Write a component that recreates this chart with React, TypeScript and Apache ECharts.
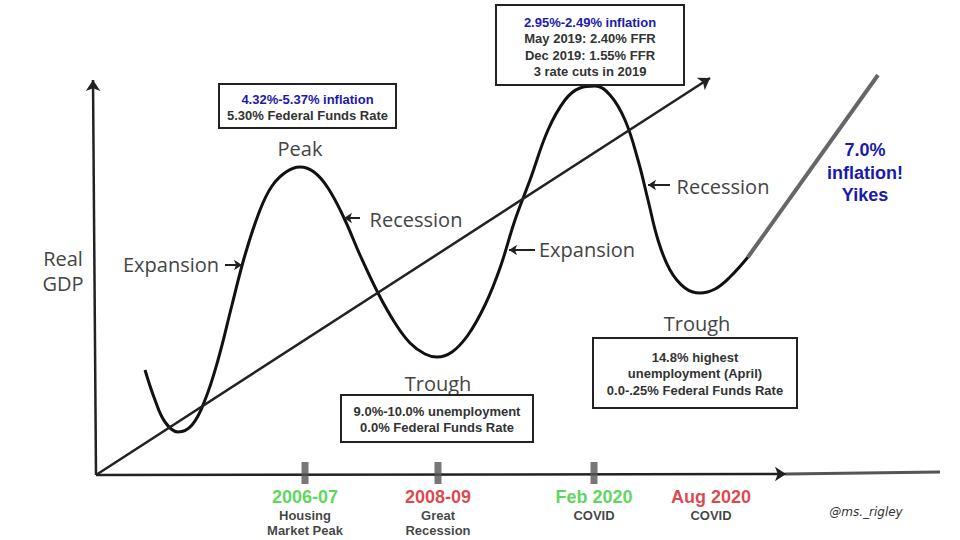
import React, { useEffect, useRef } from "react";
import * as echarts from "echarts";

// ---- data (axis units: x = px right of origin, y = height above x-axis) ----
const cycleX = [49, 59, 69, 82, 96, 109, 122, 136, 149, 164, 176, 190, 204, 218, 232, 248, 264, 282, 299, 314, 329, 341, 356, 372, 389, 404, 419, 434, 452, 469, 484, 499, 514, 529, 542, 552, 562, 574, 589, 604, 619, 634, 652];
const cycleY = [105, 75, 53, 43, 50, 75, 115, 170, 220, 265, 289, 303, 308, 303, 287, 257, 220, 182, 152, 132, 121, 118, 123, 140, 170, 207, 255, 295, 345, 375, 387, 389, 380, 355, 315, 275, 235, 205, 187, 182, 186, 198, 218];
const surgeX = [652, 782];
const surgeY = [218, 400];
const trendLine = [[0, 0], [614, 397]];
const yAxisLine = [[0, 0], [-3, 395]];
const xAxisArrow = [[0, 0], [690, 1]];
const xAxisTail = [[690, 1], [844, 3]];
const phaseArrows = [
  [[129, 210], [146, 210]],
  [[264, 257], [248, 257]],
  [[439, 225], [413, 225]],
  [[574, 290], [552, 290]],
];

const eventLabels = ["2006-07", "2008-09", "Feb 2020", "Aug 2020"];
const eventNotes = [["Housing", "Market Peak"], ["Great", "Recession"], ["COVID"], ["COVID"]];
const eventX = [209, 342, 498, 615];
const eventColorKey = ["g", "r", "g", "r"];
const eventHasTick = [true, true, true, false];

const phaseLabels = [
  { text: "Peak", x: 300, y: 148 },
  { text: "Expansion", x: 171, y: 264 },
  { text: "Recession", x: 416, y: 219 },
  { text: "Trough", x: 438, y: 383 },
  { text: "Expansion", x: 587, y: 249 },
  { text: "Recession", x: 723, y: 186 },
  { text: "Trough", x: 697, y: 323 },
  { text: "Real", x: 63, y: 258 },
  { text: "GDP", x: 63, y: 283 },
];

const boxes = [
  { x: 219, y: 84, w: 177, h: 44, lines: [["4.32%-5.37% inflation", true], ["5.30% Federal Funds Rate", false]], y0: 99 },
  { x: 496, y: 5, w: 188, h: 80, lines: [["2.95%-2.49% inflation", true], ["May 2019: 2.40% FFR", false], ["Dec 2019: 1.55% FFR", false], ["3 rate cuts in 2019", false]], y0: 22 },
  { x: 341, y: 395, w: 192, h: 47, lines: [["9.0%-10.0% unemployment", false], ["0.0% Federal Funds Rate", false]], y0: 411 },
  { x: 593, y: 338, w: 204, h: 70, lines: [["14.8% highest", false], ["unemployment (April)", false], ["0.0-.25% Federal Funds Rate", false]], y0: 357 },
];
const yikesLines = ["7.0%", "inflation!", "Yikes"];

const BLUE = "#1a1aad";
const DARK = "#333";

function arrowLine(pairs: number[][][], color: string, width: number, size: number, arrow = true) {
  return {
    silent: true,
    symbol: arrow ? ["none", "arrow"] : ["none", "none"],
    symbolSize: size,
    label: { show: false },
    emphasis: { disabled: true },
    lineStyle: { color, width, type: "solid", opacity: 1 },
    data: pairs.map((p) => [{ coord: p[0] }, { coord: p[1] }]),
  };
}

export default function App() {
  const ref = useRef<HTMLDivElement>(null);
  useEffect(() => {
    if (!ref.current) return;
    const chart = echarts.init(ref.current, undefined, { renderer: "svg" });
    const graphics: any[] = [];
    phaseLabels.forEach((l) =>
      graphics.push({
        type: "text",
        x: l.x,
        y: l.y,
        z: 50,
        style: { text: l.text, fill: "#444", font: '20px "Open Sans"', textAlign: "center", textVerticalAlign: "middle" },
      })
    );
    boxes.forEach((b) => {
      graphics.push({
        type: "rect",
        z: 60,
        shape: { x: b.x, y: b.y, width: b.w, height: b.h },
        style: { fill: "#fff", stroke: "#222", lineWidth: 2 },
      });
      b.lines.forEach((ln, i) =>
        graphics.push({
          type: "text",
          z: 61,
          x: b.x + b.w / 2,
          y: b.y0 + i * 16.5,
          style: {
            text: ln[0] as string,
            fill: ln[1] ? BLUE : DARK,
            font: 'bold 13px "Liberation Sans"',
            textAlign: "center",
            textVerticalAlign: "middle",
          },
        })
      );
    });
    yikesLines.forEach((t, i) =>
      graphics.push({
        type: "text",
        z: 61,
        x: 865,
        y: 150 + i * 22.5,
        style: { text: t, fill: BLUE, font: 'bold 18px "Liberation Sans"', textAlign: "center", textVerticalAlign: "middle" },
      })
    );
    graphics.push({
      type: "text",
      z: 61,
      x: 866,
      y: 512,
      style: { text: "@ms._rigley", fill: "#333", font: 'italic 12px "DejaVu Sans"', textAlign: "center", textVerticalAlign: "middle" },
    });

    chart.setOption({
      animation: false,
      backgroundColor: "#fff",
      grid: { left: 86, right: 20, top: 0, bottom: 65 },
      xAxis: { type: "value", min: -10, max: 844, show: false },
      yAxis: { type: "value", min: 0, max: 475, show: false },
      graphic: graphics,
      series: [
        {
          type: "line",
          name: "axes",
          data: [],
          silent: true,
          markLine: {
            ...arrowLine([yAxisLine, xAxisArrow, trendLine], "#222", 2.5, 11),
          },
        },
        {
          type: "line",
          name: "axisTail",
          data: [],
          silent: true,
          markLine: { ...arrowLine([xAxisTail], "#555", 3, 0, false) },
        },
        {
          type: "line",
          name: "phaseArrows",
          data: [],
          silent: true,
          markLine: { ...arrowLine(phaseArrows, "#222", 2, 8) },
        },
        {
          type: "line",
          name: "cycle",
          data: cycleX.map((x, i) => [x, cycleY[i]]),
          smooth: 0.4,
          showSymbol: false,
          clip: false,
          silent: true,
          lineStyle: { color: "#111", width: 3 },
        },
        {
          type: "line",
          name: "surge",
          data: surgeX.map((x, i) => [x, surgeY[i]]),
          showSymbol: false,
          clip: false,
          silent: true,
          lineStyle: { color: "#666", width: 4 },
        },
        {
          type: "scatter",
          name: "events",
          silent: true,
          clip: false,
          z: 5,
          symbol: "rect",
          data: eventX.map((x, i) => ({
            value: [x, 2],
            symbolSize: eventHasTick[i] ? [7, 22] : [0, 22],
            itemStyle: { color: "#555" },
          })),
          label: {
            show: true,
            position: "bottom",
            distance: 2,
            formatter: (p: any) => {
              const i = p.dataIndex;
              return `{${eventColorKey[i]}|${eventLabels[i]}}\n` + eventNotes[i].map((n) => `{sub|${n}}`).join("\n");
            },
            rich: {
              g: { color: "#33cc33", fontSize: 18, fontWeight: "bold", fontFamily: "Liberation Sans", lineHeight: 22, align: "center" },
              r: { color: "#d4161c", fontSize: 18, fontWeight: "bold", fontFamily: "Liberation Sans", lineHeight: 22, align: "center" },
              sub: { color: "#111", fontSize: 13, fontWeight: "bold", fontFamily: "Liberation Sans", lineHeight: 15, align: "center" },
            },
          },
        },
      ],
    });
    return () => chart.dispose();
  }, []);
  return <div ref={ref} style={{ position: "fixed", left: 0, top: 0, width: 960, height: 540, background: "#fff" }} />;
}
